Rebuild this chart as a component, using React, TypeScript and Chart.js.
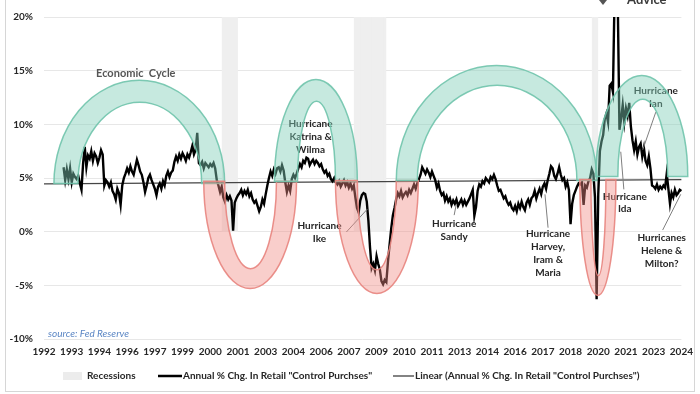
import React, { useEffect, useRef } from 'react';
import { Chart, registerables } from 'chart.js';

Chart.register(...registerables);

// ---------- DATA ----------
const START_YEAR = 1992;
const MONTH_COUNT = 392; // Jan 1992 .. Aug 2024
const TICK_EVERY = 17;
const tickYears = ['1992', '1993', '1994', '1996', '1997', '1999', '2000', '2001', '2003', '2004', '2006', '2007',
  '2009', '2010', '2011', '2013', '2014', '2016', '2017', '2018', '2020', '2021', '2023', '2024'];

// Annual % change in retail "control purchases", monthly, starting Jan 1993
const yoy1993_1997 = [
  6.0, 4.8, 5.8, 4.9, 5.9, 4.6, 5.4, 5.1, 4.9, 5.2, 4.5, 3.9,
  6.4, 7.9, 6.0, 7.1, 6.8, 7.5, 6.6, 7.3, 7.0, 6.4, 6.9, 7.6,
  7.2, 4.3, 4.8, 4.6, 4.2, 4.6, 3.8, 3.5, 3.0, 4.0, 3.6, 2.5,
  4.3, 5.0, 5.4, 5.9, 5.5, 6.1, 5.6, 5.3, 6.0, 6.7, 6.2, 5.6,
  5.3, 4.6, 3.7, 4.3, 5.0, 5.3, 4.8, 4.4, 4.0, 3.4, 4.2, 4.5,
];
const yoy1998_2002 = [
  4.0, 4.7, 4.3, 5.2, 5.6, 5.1, 5.5, 5.7, 6.5, 7.0, 6.6, 7.2,
  6.8, 7.3, 7.0, 6.6, 7.2, 6.9, 7.4, 8.0, 7.2, 7.6, 9.2, 6.4,
  6.2, 6.5, 5.9, 6.4, 6.2, 6.0, 6.3, 6.1, 6.4, 5.9, 4.8, 4.3,
  3.7, 4.2, 3.2, 2.8, 3.4, 3.0, 3.3, 2.9, 0.1, 2.7, 3.1, 3.4,
  3.6, 3.9, 3.4, 3.8, 3.5, 3.9, 3.3, 3.6, 3.0, 2.7, 2.9, 2.4,
];
const yoy2003_2007 = [
  1.9, 2.3, 3.0, 2.6, 3.5, 4.3, 5.0, 5.6, 5.2, 5.8, 5.4, 5.9,
  6.0, 5.6, 6.2, 5.7, 4.6, 3.7, 4.3, 3.8, 4.9, 5.3, 5.0, 5.4,
  5.9, 6.3, 6.0, 6.6, 6.4, 6.9, 6.8, 6.2, 6.5, 6.7, 6.3, 6.6,
  6.4, 6.1, 6.3, 5.8, 5.5, 5.7, 5.2, 5.4, 4.9, 4.7, 5.0, 4.6,
  4.4, 4.7, 4.2, 4.5, 4.8, 4.3, 4.6, 4.1, 4.5, 4.0, 4.3, 3.2,
];
const yoy2008_2012 = [
  2.2, 1.8, 2.9, 3.4, 3.6, 3.5, 2.8, 1.0, -1.5, -3.4, -3.0, -3.6,
  -2.3, -3.0, -3.5, -4.6, -4.9, -4.5, -4.7, -2.8, -1.2, 0.3, 1.5, 2.2,
  3.0, 3.6, 3.3, 3.8, 3.2, 3.5, 3.7, 3.4, 3.9, 3.6, 4.0, 4.4,
  4.0, 4.5, 4.9, 5.3, 6.0, 5.7, 5.4, 5.8, 5.5, 5.1, 5.6, 5.2,
  4.8, 4.1, 4.5, 3.8, 3.4, 3.6, 2.9, 3.3, 2.8, 3.1, 2.5, 2.9,
];
const yoy2013_2017 = [
  2.6, 3.0, 2.4, 2.7, 3.0, 2.5, 2.9, 2.5, 2.8, 3.1, 3.5, 3.9,
  1.5, 2.3, 3.8, 4.4, 4.2, 4.7, 4.5, 5.0, 4.8, 4.6, 5.1, 4.9,
  5.3, 4.9, 4.3, 3.8, 3.9, 3.5, 3.1, 3.3, 2.8, 2.5, 2.7, 2.2,
  2.0, 2.4, 1.9, 2.6, 2.2, 2.8, 2.3, 2.0, 2.7, 3.0, 2.5, 3.1,
  3.3, 3.8, 3.1, 3.6, 4.0, 3.5, 4.2, 4.5, 4.0, 4.8, 5.4, 6.1,
];
const yoy2018_2024 = [
  5.9, 5.2, 4.9, 5.4, 6.0, 5.3, 4.8, 5.0, 4.2, 4.6, 3.9, 0.7,
  2.6, 3.4, 3.8, 4.2, 4.5, 4.4, 4.6, 2.5, 4.3, 4.1, 4.7, 5.0,
  5.8, 5.4, 3.2, -6.3, 3.5, 7.5, 8.4, 9.0, 10.5, 11.0, 10.2, 13.6,
  13.8, 13.0, 22.0, 27.0, 21.0, 9.5, 10.5, 11.8, 10.2, 11.5, 10.8, 12.0,
  9.8, 8.5, 7.6, 8.4, 7.2, 7.9, 8.2, 7.0, 7.8, 6.6, 6.2, 7.0,
  5.9, 4.3, 4.2, 4.0, 4.4, 3.9, 4.2, 4.0, 4.3, 4.1, 5.4, 4.0,
  2.6, 3.6, 3.2, 3.9, 3.4, 3.6, 3.9, 3.8,
];
const SERIES_START = '1993-01';

// Linear trend end points (Jan 1992, Aug 2024)
const trendStart = 4.45;
const trendEnd = 4.85;

// Recessions (NBER) as [start, end] months
const recessions: [string, string][] = [['2001-03', '2001-11'], ['2007-12', '2009-06'], ['2020-02', '2020-04']];
const RECESSION_LEVEL = 20;

const seriesLabel = 'Annual % Chg. In Retail "Control Purchses"';
const trendLabel = 'Linear (Annual % Chg. In Retail "Control Purchses")';

// ---------- helpers ----------
const monthIndex = (ym: string) => {
  const [y, m] = ym.split('-').map(Number);
  return (y - START_YEAR) * 12 + (m - 1);
};
const categories: string[] = Array.from({ length: MONTH_COUNT }, (_, i) =>
  `${START_YEAR + Math.floor(i / 12)}-${String((i % 12) + 1).padStart(2, '0')}`);

const allYoY = [...yoy1993_1997, ...yoy1998_2002, ...yoy2003_2007, ...yoy2008_2012, ...yoy2013_2017, ...yoy2018_2024];
const seriesData: (number | null)[] = categories.map((_, i) => {
  const k = i - monthIndex(SERIES_START);
  return k >= 0 && k < allYoY.length ? allYoY[k] : null;
});
const trendData: (number | null)[] = categories.map((_, i) =>
  i === 0 ? trendStart : i === MONTH_COUNT - 1 ? trendEnd : null);
const recessionData: (number | null)[] = categories.map((_, i) =>
  recessions.some(([a, b]) => i >= monthIndex(a) && i <= monthIndex(b)) ? RECESSION_LEVEL : null);

// ---------- annotation geometry (in data coords: month index / % value) ----------
type Band = { dir: 'up' | 'down'; oL: number; oR: number; iL: number; iR: number; base: number; oPeak: number; iPeak: number };
const cycleBands: Band[] = [
  { dir: 'up', oL: 6.1, oR: 110.8, iL: 20.8, iR: 96.7, base: 4.49, oPeak: 14.1, iPeak: 12.06 },
  { dir: 'down', oL: 98.0, oR: 154.9, iL: 110.8, iR: 142.6, base: 4.7, oPeak: -5.3, iPeak: -3.45 },
  { dir: 'up', oL: 141.4, oR: 192.2, iL: 155.5, iR: 178.8, base: 4.68, oPeak: 14.18, iPeak: 12.15 },
  { dir: 'down', oL: 178.8, oR: 229.6, iL: 192.2, iR: 216.1, base: 4.77, oPeak: -5.75, iPeak: -3.54 },
  { dir: 'up', oL: 216.1, oR: 339.1, iL: 229.0, iR: 326.9, base: 4.77, oPeak: 15.48, iPeak: 13.63 },
  { dir: 'down', oL: 328.7, oR: 350.8, iL: 335.5, iR: 344.7, base: 4.87, oPeak: -5.94, iPeak: -4.1 },
  { dir: 'up', oL: 338.5, oR: 394.9, iL: 352.0, iR: 382.6, base: 5.14, oPeak: 14.55, iPeak: 12.34 },
];

type Note = { lines: string[]; idx: number; v: number; leader?: [number, number, number, number] };
const notes: Note[] = [
  { lines: ['Hurricane', 'Katrina &', 'Wilma'], idx: 163.5, v: 10.03 },
  { lines: ['Hurricane', 'Ike'], idx: 169, v: 0.52, leader: [185.5, -0.03, 198.3, 2.09] },
  { lines: ['Hurricane', 'Sandy'], idx: 251.6, v: 0.7, leader: [251.6, 1.54, 252.8, 2.46] },
  { lines: ['Hurricane', 'Harvey,', 'Iram &', 'Maria'], idx: 309.2, v: -0.22, leader: [309.2, 0.37, 307.3, 3.48] },
  { lines: ['Hurricane', 'Ida'], idx: 356.3, v: 3.29, leader: [355.7, 3.94, 353.8, 7.45] },
  { lines: ['Hurricane', 'Ian'], idx: 375.3, v: 13.08, leader: [375.3, 11.14, 367.3, 7.63] },
  { lines: ['Hurricanes', 'Helene &', 'Milton?'], idx: 378.9, v: -0.59, leader: [379.5, 0.15, 390.6, 3.48] },
];
const cycleTitle = { text: 'Economic  Cycle', idx: 56.3, v: 14.74 };

const FONT = 'Lato, "Liberation Sans", sans-serif';
const TEXT = '#262626';

const overlayPlugin = {
  id: 'overlay',
  afterDatasetsDraw(chart: any) {
    const ctx: CanvasRenderingContext2D = chart.ctx;
    const xs = chart.scales.x, ys = chart.scales.y;
    const X = (i: number) => xs.getPixelForValue(i);
    const Y = (v: number) => ys.getPixelForValue(v);
    ctx.save();
    // notes + leaders
    ctx.font = `bold 10px ${FONT}`;
    ctx.fillStyle = TEXT;
    ctx.textAlign = 'center';
    ctx.textBaseline = 'middle';
    for (const n of notes) {
      n.lines.forEach((t, k) => ctx.fillText(t, X(n.idx), Y(n.v) + k * 12.8));
      if (n.leader) {
        const [a, b, c, d] = n.leader;
        ctx.beginPath();
        ctx.strokeStyle = '#7f7f7f';
        ctx.lineWidth = 1;
        ctx.moveTo(X(a), Y(b));
        ctx.lineTo(X(c), Y(d));
        ctx.stroke();
      }
    }
    ctx.font = `bold 11px ${FONT}`;
    ctx.fillStyle = '#555555';
    ctx.fillText(cycleTitle.text, X(cycleTitle.idx), Y(cycleTitle.v));

    // cycle bands
    for (const b of cycleBands) {
      const oL = X(b.oL), oR = X(b.oR), iL = X(b.iL), iR = X(b.iR);
      const base = Y(b.base);
      const ocx = (oL + oR) / 2, orx = (oR - oL) / 2, ory = Math.abs(base - Y(b.oPeak));
      const icx = (iL + iR) / 2, irx = (iR - iL) / 2, iry = Math.abs(base - Y(b.iPeak));
      ctx.beginPath();
      if (b.dir === 'up') {
        ctx.ellipse(ocx, base, orx, ory, 0, Math.PI, 2 * Math.PI, false);
        ctx.lineTo(iR, base);
        ctx.ellipse(icx, base, irx, iry, 0, 0, -Math.PI, true);
        ctx.fillStyle = 'rgba(128, 207, 184, 0.45)';
        ctx.strokeStyle = 'rgba(112, 196, 172, 0.9)';
      } else {
        ctx.ellipse(ocx, base, orx, ory, 0, Math.PI, 0, true);
        ctx.lineTo(iR, base);
        ctx.ellipse(icx, base, irx, iry, 0, 0, Math.PI, false);
        ctx.fillStyle = 'rgba(240, 138, 132, 0.42)';
        ctx.strokeStyle = 'rgba(232, 132, 126, 0.9)';
      }
      ctx.closePath();
      ctx.fill();
      ctx.lineWidth = 1.5;
      ctx.stroke();
    }
    ctx.restore();
  },
  afterDraw(chart: any) {
    const ctx: CanvasRenderingContext2D = chart.ctx;
    const ca = chart.chartArea;
    ctx.save();
    // source
    ctx.font = `italic 10px ${FONT}`;
    ctx.fillStyle = '#5b86c4';
    ctx.textAlign = 'left';
    ctx.textBaseline = 'middle';
    ctx.fillText('source: Fed Reserve', ca.left + 4, ca.bottom - 5);

    // legend
    const ly = 376;
    ctx.font = `bold 10px ${FONT}`;
    ctx.fillStyle = '#ececec';
    ctx.fillRect(63, ly - 4, 19, 8);
    ctx.fillStyle = TEXT;
    ctx.fillText('Recessions', 87, ly);
    ctx.strokeStyle = '#000';
    ctx.lineWidth = 2.5;
    ctx.beginPath(); ctx.moveTo(158, ly); ctx.lineTo(182, ly); ctx.stroke();
    ctx.fillText(seriesLabel, 183, ly);
    ctx.strokeStyle = '#404040';
    ctx.lineWidth = 1.3;
    ctx.beginPath(); ctx.moveTo(393, ly); ctx.lineTo(414, ly); ctx.stroke();
    ctx.fillText(trendLabel, 415, ly);

    // logo fragment
    ctx.font = `bold 13px ${FONT}`;
    ctx.fillStyle = '#3c3c3c';
    ctx.textBaseline = 'alphabetic';
    ctx.fillText('Advice', 627, 4);
    ctx.beginPath();
    ctx.moveTo(599, 0); ctx.lineTo(607, 0); ctx.lineTo(603, 5); ctx.closePath();
    ctx.fillStyle = '#555';
    ctx.fill();

    // outer frame
    ctx.strokeStyle = '#d6d6d6';
    ctx.lineWidth = 1;
    ctx.strokeRect(5.5, -2, 689, 393.5);
    ctx.restore();
  },
};

export default function App() {
  const ref = useRef<HTMLCanvasElement | null>(null);
  useEffect(() => {
    if (!ref.current) return;
    const chart = new Chart(ref.current, {
      data: {
        labels: categories,
        datasets: [
          {
            type: 'line',
            label: seriesLabel,
            data: seriesData,
            borderColor: '#000',
            borderWidth: 2.4,
            pointRadius: 0,
            tension: 0,
            spanGaps: false,
            order: 1,
          },
          {
            type: 'line',
            label: trendLabel,
            data: trendData,
            borderColor: '#454545',
            borderWidth: 1.3,
            pointRadius: 0,
            spanGaps: true,
            order: 2,
          },
          {
            type: 'bar',
            label: 'Recessions',
            data: recessionData,
            backgroundColor: '#efefef',
            barThickness: 2.4,
            borderWidth: 0,
            order: 3,
          },
        ],
      } as any,
      options: {
        responsive: false,
        animation: false,
        devicePixelRatio: 1,
        layout: { padding: { left: 0, right: 17, top: 14, bottom: 30 } },
        plugins: { legend: { display: false }, tooltip: { enabled: false } },
        scales: {
          x: {
            type: 'category',
            offset: false,
            grid: { display: false, offset: false, drawTicks: false },
            border: { display: false },
            afterFit: (s: any) => { s.height = 25; },
            ticks: {
              autoSkip: false,
              maxRotation: 0,
              minRotation: 0,
              padding: 7,
              color: TEXT,
              font: { family: FONT, size: 10, weight: 'bold' },
              callback: (_v: any, i: number) => (i % TICK_EVERY === 0 ? tickYears[i / TICK_EVERY] : null),
            },
          },
          y: {
            min: -10,
            max: 20,
            afterFit: (s: any) => { s.width = 44; },
            grid: { color: '#e7e7e7', lineWidth: 1, drawTicks: false },
            border: { display: false },
            ticks: {
              stepSize: 5,
              padding: 11,
              color: TEXT,
              font: { family: FONT, size: 10, weight: 'bold' },
              callback: (v: any) => `${v}%`,
            },
          },
        },
      } as any,
      plugins: [overlayPlugin],
    });
    return () => chart.destroy();
  }, []);
  return (
    <div style={{ position: 'absolute', left: 0, top: 0, width: 700, height: 394, background: '#fff' }}>
      <canvas ref={ref} width={700} height={394} style={{ display: 'block' }} />
    </div>
  );
}
